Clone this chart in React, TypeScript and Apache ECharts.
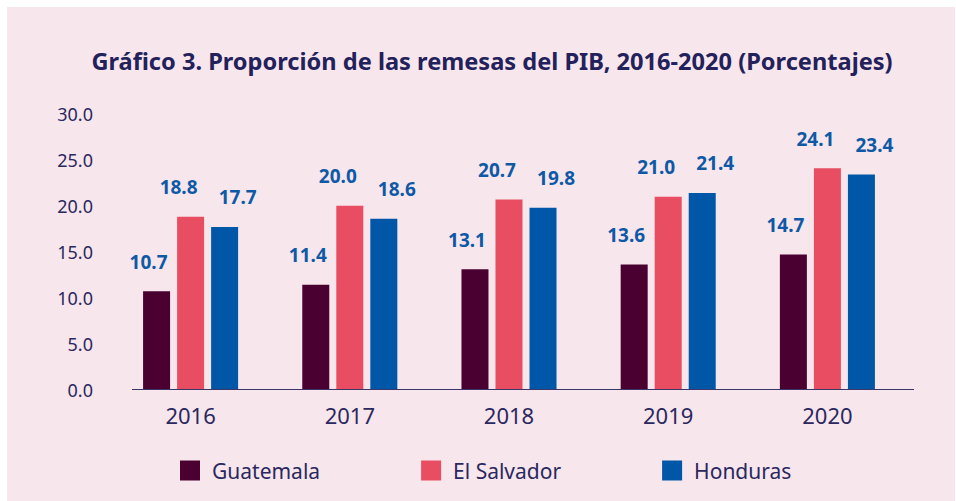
import React, { useEffect, useRef } from "react";
import * as echarts from "echarts";

const years = ["2016", "2017", "2018", "2019", "2020"];
const guatemala = [10.7, 11.4, 13.1, 13.6, 14.7];
const elSalvador = [18.8, 20.0, 20.7, 21.0, 24.1];
const honduras = [17.7, 18.6, 19.8, 21.4, 23.4];
const seriesNames = ["Guatemala", "El Salvador", "Honduras"];
const yTicks = [0, 5, 10, 15, 20, 25, 30];

const TEXT = "#2A285E";
const LABEL = "#0E59A6";
const FONT = "'Noto Sans', sans-serif";

export default function App() {
  const ref = useRef<HTMLDivElement>(null);
  useEffect(() => {
    document.body.style.margin = "0";
    const chart = echarts.init(ref.current!, null, { renderer: "svg" });
    const labelCfg = (dx: number) => ({
      show: true,
      position: "top",
      distance: 20,
      offset: [dx, 0],
      color: LABEL,
      fontFamily: FONT,
      fontWeight: "bold",
      fontSize: 19,
      formatter: (p: any) => Number(p.value).toFixed(1),
    });
    const option: any = {
      animation: false,
      backgroundColor: "#ffffff",
      textStyle: { fontFamily: FONT },
      title: {
        text: "Gráfico 3. Proporción de las remesas del PIB, 2016-2020 (Porcentajes)",
        left: 487,
        textAlign: "center",
        top: 44,
        textStyle: { color: "#23215B", fontSize: 23.6, fontWeight: "bold", fontFamily: FONT },
      },
      grid: { left: 111, right: 49, top: 114, bottom: 111.5, containLabel: false },
      legend: {
        left: 175,
        top: 455,
        itemWidth: 20,
        itemHeight: 20,
        itemGap: 101,
        icon: "rect",
        textStyle: { color: TEXT, fontSize: 21, fontFamily: FONT, padding: [0, 0, 0, 7] },
        data: seriesNames,
      },
      xAxis: {
        type: "category",
        data: years,
        axisLine: { show: false },
        axisTick: { show: false },
        axisLabel: { color: TEXT, fontSize: 22, margin: 14, fontFamily: FONT },
      },
      yAxis: {
        type: "value",
        min: yTicks[0],
        max: yTicks[yTicks.length - 1],
        interval: 5,
        splitLine: { show: false },
        axisLine: { show: false },
        axisLabel: {
          color: TEXT,
          fontSize: 18,
          margin: 18,
          fontFamily: FONT,
          formatter: (v: number) => v.toFixed(1),
        },
      },
      series: [
        { name: seriesNames[0], type: "bar", data: guatemala, barWidth: 27, barGap: "26%", itemStyle: { color: "#4A0030" }, label: labelCfg(-8) },
        { name: seriesNames[1], type: "bar", data: elSalvador, barWidth: 27, barGap: "26%", itemStyle: { color: "#E94D62" }, label: labelCfg(-12) },
        { name: seriesNames[2], type: "bar", data: honduras, barWidth: 27, barGap: "26%", itemStyle: { color: "#0056A7" }, label: labelCfg(13) },
      ],
    };
    chart.setOption(option);
    const y0 = chart.convertToPixel({ yAxisIndex: 0 }, 0) as number;
    chart.setOption({
      graphic: [
        { type: "rect", z: -10, silent: true, shape: { x: 7, y: 7, width: 948, height: 494 }, style: { fill: "#F7E6EC" } },
        { type: "line", z: 100, silent: true, shape: { x1: 132, y1: y0, x2: 914, y2: y0 }, style: { stroke: "#3B3668", lineWidth: 1.2 } },
      ],
    });
    return () => chart.dispose();
  }, []);
  return <div ref={ref} style={{ width: 956, height: 501, position: "absolute", left: 0, top: 0 }} />;
}
